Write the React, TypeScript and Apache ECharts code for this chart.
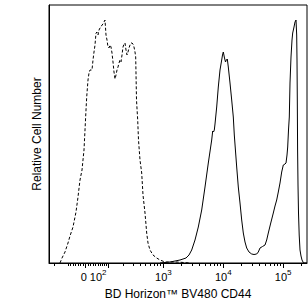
import React, { useEffect, useRef } from "react";
import * as echarts from "echarts";

// Histogram of the isotype control (dashed): display channel vs. relative count
const ISO_CHANNEL = [
  11, 13, 16, 19, 21, 24, 27, 29, 31, 33, 35, 36, 37, 37.7, 39, 40, 41, 43, 44, 45,
  46, 47, 48, 49, 50, 51, 52, 53, 54, 55, 56, 57, 58, 59, 60, 61, 62, 63, 64, 65,
  66, 67, 68, 69, 70, 71, 72, 73, 74, 75, 76, 77, 78, 79, 80, 81, 82, 83, 84, 85,
  86, 86.7, 87.5, 88.7, 89.5, 91, 92.7, 94, 96, 97.7, 99, 101, 104, 107.7, 111, 116, 128, 141,
];
const ISO_COUNT = [
  0, 5, 11, 20, 27, 36, 51, 66, 83, 93, 113, 133, 153, 166, 183, 190, 193, 193, 203, 211,
  218, 230, 231, 228, 233, 235, 236, 238, 239, 241, 243, 228, 223, 216, 215, 218, 216, 210, 201, 191,
  184, 188, 193, 196, 200, 203, 201, 208, 216, 219, 220, 213, 208, 211, 215, 218, 220, 220, 219, 216,
  211, 206, 163, 143, 123, 103, 90, 68, 50, 30, 20, 13, 8, 5, 3, 1, 1, 0,
];

// Histogram of BD Horizon BV480 CD44 stained cells (solid)
const CD44_CHANNEL = [
  111, 121, 131, 137, 140, 142.7, 146, 149.3, 152.7, 156, 159.3, 162.7, 163.7, 164.5, 165.3, 166,
  167.7, 169.3, 171, 172.7, 173.5, 174.3, 175.5, 176.5, 177.3, 178.3, 179.3, 181, 182.7, 184.3,
  185.3, 187.7, 189.3, 191, 192.7, 194.3, 196, 197.7, 200, 202.7, 205, 207.7, 209.3, 211, 213.5,
  216, 217.7, 219.3, 221.5, 224.3, 226, 227.7, 229.3, 231, 232.7, 234.3, 236, 237, 238, 238.7,
  239.5, 240.3, 241, 242, 243, 243.7, 245, 246, 247, 247.7, 248, 248.3, 248.6, 249, 249.5, 250.2,
  251, 252, 253, 254.5, 258,
];
const CD44_COUNT = [
  0, 1, 3, 5, 8, 13, 23, 36, 53, 76, 100, 123, 132, 131, 133, 139,
  156, 176, 193, 203, 208, 211, 205, 201, 203, 204, 196, 180, 163, 146,
  128, 96, 76, 60, 43, 30, 21, 15, 11, 9, 8.5, 9, 11, 15, 16.5,
  18, 23, 30, 39, 50, 57, 63, 71, 80, 91, 98, 99, 100, 108, 116,
  133, 146, 180, 206, 223, 230, 236, 241, 243, 228, 203, 163, 113, 78, 50, 28,
  13, 7, 3, 0, 0,
];

// Fluorescence intensities of the axis ticks (biexponential display)
const MAJOR_TICKS = [0, 100, 1000, 10000, 100000];
const TICK_LABELS = ["{b|0}", "{b|10}{s|2}", "{b|10}{s|3}", "{b|10}{s|4}", "{b|10}{s|5}"];
const MINOR_TICKS = [
  -150, -70, -60, -50, -40, -30, -20, -10, 10, 20, 30, 40, 50, 60, 70, 80, 90,
  200, 300, 400, 500, 600, 700, 800, 900,
  2000, 3000, 4000, 5000, 6000, 7000, 8000, 9000,
  20000, 30000, 40000, 50000, 60000, 70000, 80000, 90000,
  200000,
];
// horizontal nudges (in channels) so that "0" and "10²" do not collide
const LABEL_NUDGE = [-1.8, -10.2, 0, 0, 0];

const CH_MAX = 258;
const COUNT_MAX = 258;
const toChannel = (v: number) => 36.5 + 26 * Math.asinh(v / 100);

export default function App() {
  const ref = useRef<HTMLDivElement>(null);

  useEffect(() => {
    if (!ref.current) return;
    const chart = echarts.init(ref.current, null, { renderer: "svg" });
    const font = "'Liberation Sans', Arial, Helvetica, sans-serif";
    const labelPos = MAJOR_TICKS.map((v, i) => toChannel(v) + LABEL_NUDGE[i]);
    const base: any = {
      type: "value",
      min: 0,
      max: CH_MAX,
      position: "bottom",
      splitLine: { show: false },
    };
    const labelAxis = (idx: number[]): any => ({
      ...base,
      axisLine: { show: false },
      axisTick: { show: false },
      axisLabel: {
        show: true,
        customValues: idx.map((i) => labelPos[i]),
        margin: 5,
        hideOverlap: false,
        formatter: (val: number) => {
          let best = 0;
          labelPos.forEach((p, i) => {
            if (Math.abs(p - val) < Math.abs(labelPos[best] - val)) best = i;
          });
          return TICK_LABELS[best];
        },
        rich: {
          b: { fontSize: 11, color: "#000", fontFamily: font, lineHeight: 14, verticalAlign: "bottom" },
          s: { fontSize: 8, color: "#000", fontFamily: font, lineHeight: 8, verticalAlign: "top" },
        },
      },
    });
    chart.setOption({
      animation: false,
      textStyle: { fontFamily: font, color: "#000" },
      grid: {
        left: 49,
        top: 5,
        right: 1,
        bottom: 43,
        show: true,
        borderColor: "#000",
        borderWidth: 1,
        backgroundColor: "transparent",
      },
      xAxis: [
        {
          ...base,
          axisLine: { show: true, lineStyle: { color: "#000", width: 1 } },
          axisTick: {
            show: true,
            customValues: MAJOR_TICKS.map(toChannel),
            length: 5,
            lineStyle: { color: "#000", width: 1 },
          },
          axisLabel: { show: false },
          name: "BD Horizon™ BV480 CD44",
          nameLocation: "middle",
          nameGap: 25,
          nameTextStyle: { fontSize: 12, color: "#000", fontFamily: font },
        },
        {
          ...base,
          axisLine: { show: false },
          axisTick: {
            show: true,
            customValues: MINOR_TICKS.map(toChannel),
            length: 3,
            lineStyle: { color: "#000", width: 1 },
          },
          axisLabel: { show: false },
        },
        labelAxis([0]),
        labelAxis([1, 2, 3, 4]),
      ],
      yAxis: {
        type: "value",
        min: 0,
        max: COUNT_MAX,
        axisLine: { show: true, lineStyle: { color: "#000" } },
        axisTick: { show: false },
        axisLabel: { show: false },
        splitLine: { show: false },
        name: "Relative Cell Number",
        nameLocation: "middle",
        nameGap: 6,
        nameTextStyle: { fontSize: 12, color: "#000", fontFamily: font },
      },
      series: [
        {
          type: "line",
          name: "Isotype",
          data: ISO_CHANNEL.map((c, i) => [c, ISO_COUNT[i]]),
          showSymbol: false,
          lineStyle: { color: "#000", width: 1, type: [3, 2] },
          z: 2,
        },
        {
          type: "line",
          name: "CD44",
          data: CD44_CHANNEL.map((c, i) => [c, CD44_COUNT[i]]),
          showSymbol: false,
          lineStyle: { color: "#000", width: 1 },
          z: 3,
        },
      ],
    });
    return () => chart.dispose();
  }, []);

  return (
    <div
      ref={ref}
      style={{ position: "fixed", left: 0, top: 0, width: 308, height: 306, background: "#fff" }}
    />
  );
}
